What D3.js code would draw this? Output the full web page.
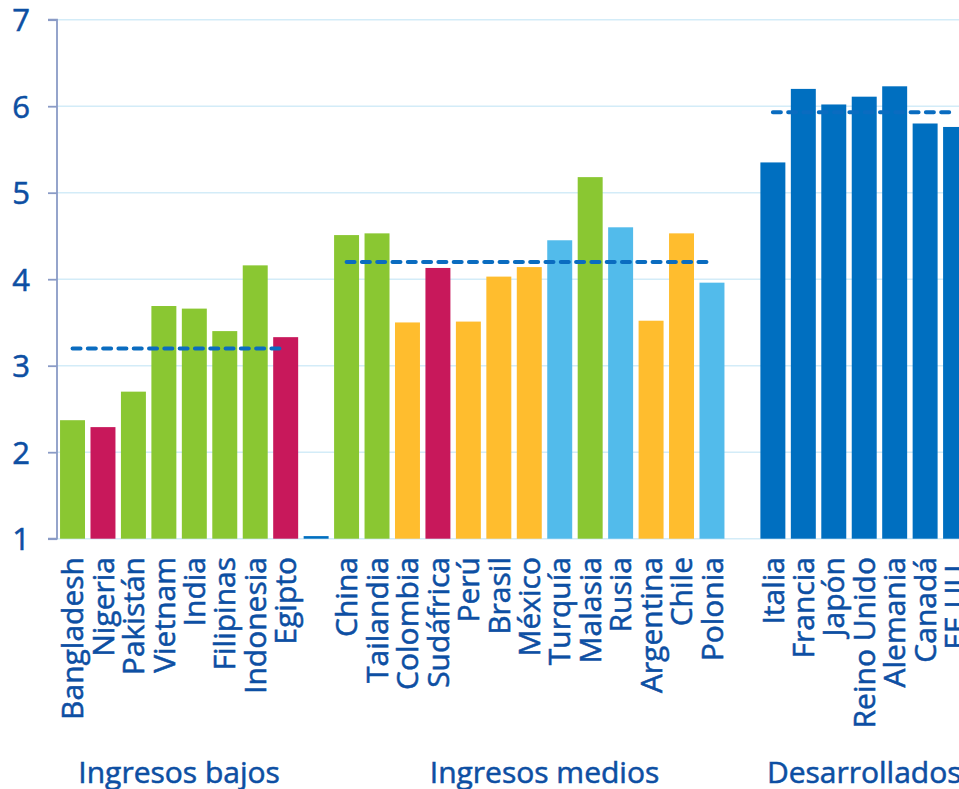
<!DOCTYPE html>
<html>
<head>
<meta charset="utf-8">
<script src="https://cdn.jsdelivr.net/npm/d3@7"></script>
<style>
  html, body { margin: 0; padding: 0; background: #ffffff; }
  svg { display: block; }
  text {
    font-family: "Open Sans", "Noto Sans", sans-serif;
    fill: #0d4fa3;
    stroke: #0d4fa3;
    stroke-width: 0.55px;
  }
</style>
</head>
<body>
<svg id="chart" width="959" height="789"></svg>
<script>
// Countries in drawing order; empty names are spacer slots between groups
const countries = [
  "Bangladesh", "Nigeria", "Pakistán", "Vietnam", "India", "Filipinas", "Indonesia", "Egipto",
  "",
  "China", "Tailandia", "Colombia", "Sudáfrica", "Perú", "Brasil", "México", "Turquía",
  "Malasia", "Rusia", "Argentina", "Chile", "Polonia",
  "",
  "Italia", "Francia", "Japón", "Reino Unido", "Alemania", "Canadá", "EE.UU."
];

const values = [
  2.37, 2.29, 2.70, 3.69, 3.66, 3.40, 4.16, 3.33,
  1.03,
  4.51, 4.53, 3.50, 4.13, 3.51, 4.03, 4.14, 4.45,
  5.18, 4.60, 3.52, 4.53, 3.96,
  null,
  5.35, 6.20, 6.02, 6.11, 6.23, 5.80, 5.76
];

// Region of each country (sets the bar colour)
const regions = [
  "asia", "africa", "asia", "asia", "asia", "asia", "asia", "africa",
  "dev",
  "asia", "asia", "latam", "africa", "latam", "latam", "latam", "europe",
  "asia", "europe", "latam", "latam", "europe",
  "dev",
  "dev", "dev", "dev", "dev", "dev", "dev", "dev"
];

const regionColors = {
  asia: "#8ac732",
  africa: "#c8185b",
  latam: "#ffbd2e",
  europe: "#52bbeb",
  dev: "#006fc0"
};

// Income groups: label, first and last slot of the group, group average
const groupNames = ["Ingresos bajos", "Ingresos medios", "Desarrollados"];
const groupFirst = [0, 9, 23];
const groupLast = [7, 22, 29];
const groupAverages = [3.2, 4.2, 5.93];

const yTicks = [1, 2, 3, 4, 5, 6, 7];

const svg = d3.select("#chart");

const x = d3.scaleBand()
  .domain(d3.range(countries.length))
  .range([57.3, 57.3 + countries.length * 30.45])
  .paddingInner(0.18)
  .paddingOuter(0.09);

const y = d3.scaleLinear().domain([1, 7]).range([538.7, 19.7]);

const axisX = 57;

// Horizontal gridlines
svg.append("g")
  .selectAll("line")
  .data(yTicks)
  .join("line")
  .attr("x1", axisX)
  .attr("x2", 959)
  .attr("y1", d => y(d))
  .attr("y2", d => y(d))
  .attr("stroke", "#d3ecf8")
  .attr("stroke-width", 1.6);

// Bars
svg.append("g")
  .selectAll("rect")
  .data(values.map((v, i) => ({ v, i })).filter(d => d.v !== null))
  .join("rect")
  .attr("x", d => x(d.i))
  .attr("width", x.bandwidth())
  .attr("y", d => y(d.v))
  .attr("height", d => y(1) - y(d.v))
  .attr("fill", d => regionColors[regions[d.i]]);

// Group averages as dashed lines from first to last bar centre
svg.append("g")
  .selectAll("line")
  .data(groupAverages.map((v, g) => ({ v, g })))
  .join("line")
  .attr("x1", d => x(groupFirst[d.g]) + x.bandwidth() / 2)
  .attr("x2", d => {
    let last = groupLast[d.g];
    while (values[last] === null) last--;
    return x(last) + x.bandwidth() / 2;
  })
  .attr("y1", d => y(d.v))
  .attr("y2", d => y(d.v))
  .attr("stroke", "#0a6cc0")
  .attr("stroke-width", 4)
  .attr("stroke-linecap", "round")
  .attr("stroke-dasharray", "8 7.3");

// Y axis
const yAxis = d3.axisLeft(y)
  .tickValues(yTicks)
  .tickSize(9)
  .tickPadding(18)
  .tickFormat(d3.format("d"));

const gAxis = svg.append("g")
  .attr("transform", `translate(${axisX},0)`)
  .call(yAxis);

gAxis.select(".domain")
  .attr("stroke", "#8a9bc6")
  .attr("stroke-width", 1.8)
  .attr("d", `M-9,${y(7)}H0V${y(1)}H-9`);
gAxis.selectAll(".tick line")
  .attr("stroke", "#8a9bc6")
  .attr("stroke-width", 1.8);
gAxis.selectAll(".tick text")
  .attr("font-size", 31)
  .attr("font-family", "'Open Sans', 'Noto Sans', sans-serif")
  .attr("fill", "#0d4fa3")
  .attr("stroke", "#0d4fa3")
  .attr("stroke-width", 0.55)
  .attr("dy", "0.357em");

// Rotated country names
svg.append("g")
  .selectAll("text")
  .data(countries.map((c, i) => ({ c, i })).filter(d => d.c !== ""))
  .join("text")
  .attr("transform", d => `translate(${x(d.i) + x.bandwidth() / 2},557) rotate(-90)`)
  .attr("text-anchor", "end")
  .attr("dy", "0.357em")
  .attr("font-size", 30)
  .text(d => d.c);

// Income group titles
svg.append("g")
  .selectAll("text")
  .data(groupNames.map((n, g) => ({ n, g })))
  .join("text")
  .attr("x", d => (x(groupFirst[d.g]) + x(groupLast[d.g]) + x.bandwidth()) / 2)
  .attr("y", 783)
  .attr("text-anchor", "middle")
  .attr("font-size", 30)
  .text(d => d.n);
</script>
</body>
</html>
